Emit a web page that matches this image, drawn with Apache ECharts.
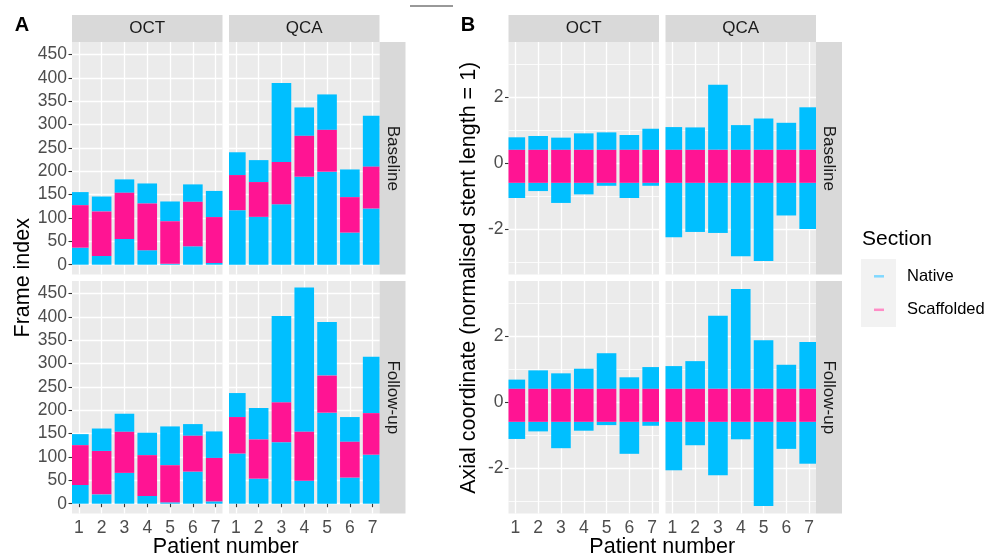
<!DOCTYPE html>
<html><head><meta charset="utf-8">
<script src="https://cdn.jsdelivr.net/npm/echarts@6/dist/echarts.min.js"></script>
<style>html,body{margin:0;padding:0;background:#fff}#c{width:1001px;height:557px}</style>
</head><body><div id="c"></div>
<script>
// ---------- data ----------
const patients = [1, 2, 3, 4, 5, 6, 7];
const methods = ['OCT', 'QCA'];
const timepoints = ['Baseline', 'Follow-up'];
const sections = ['Native', 'Scaffolded'];

// Panel A (frame index): scaffold start frame, scaffold end frame, total frames
const frameOctBaseStart = [36.5, 18.6, 55, 31, 2, 39.4, 3.6];
const frameOctBaseEnd   = [127.5, 114, 154, 131, 93, 134.7, 102];
const frameOctBaseTotal = [155.5, 146, 182.7, 174, 135.4, 172, 158];
const frameQcaBaseStart = [116.8, 102.5, 129.7, 188.5, 199.2, 68.8, 120.4];
const frameQcaBaseEnd   = [192, 177, 220, 276, 288.8, 144.7, 210];
const frameQcaBaseTotal = [240.8, 224, 389, 336.8, 364.7, 204, 318.9];
const frameOctFupStart  = [40, 20, 66, 16.5, 2.9, 68.8, 5];
const frameOctFupEnd    = [125.4, 113, 154, 104, 82.4, 145.5, 98];
const frameOctFupTotal  = [149, 161, 192.7, 152, 165.5, 170.5, 154.8];
const frameQcaFupStart  = [107.5, 53.7, 131.8, 49.4, 195, 56, 105];
const frameQcaFupEnd    = [185.6, 137.6, 217, 154, 274.4, 132.6, 194];
const frameQcaFupTotal  = [237, 205, 402, 463, 389, 185.6, 315];

// Panel B (axial coordinate): native minimum, native maximum, scaffold start/end
const axialOctBaseMin = [-1.05, -0.84, -1.20, -0.94, -0.68, -1.05, -0.68];
const axialOctBaseMax = [0.79, 0.83, 0.78, 0.91, 0.94, 0.86, 1.05];
const axialQcaBaseMin = [-2.24, -2.08, -2.11, -2.82, -2.96, -1.58, -1.99];
const axialQcaBaseMax = [1.10, 1.09, 2.38, 1.16, 1.36, 1.23, 1.70];
const axialOctFupMin  = [-1.11, -0.88, -1.39, -0.86, -0.69, -1.56, -0.71];
const axialOctFupMax  = [0.69, 0.97, 0.88, 1.02, 1.49, 0.76, 1.07];
const axialQcaFupMin  = [-2.06, -1.30, -2.21, -1.12, -3.14, -1.41, -1.86];
const axialQcaFupMax  = [1.10, 1.25, 2.63, 3.44, 1.88, 1.14, 1.83];
const axialScafStart  = [-0.59, -0.59, -0.59, -0.59, -0.59, -0.59, -0.59];
const axialScafEnd    = [0.41, 0.41, 0.41, 0.41, 0.41, 0.41, 0.41];

// tick labels
const frameTicks = [0, 50, 100, 150, 200, 250, 300, 350, 400, 450];
const axialTicks = [-2, 0, 2];
const axialMinorTicks = [-3, -1, 1, 3];

// ---------- style / layout ----------
const FONT = '"Liberation Sans", Arial, Helvetica, sans-serif';
const COLORS = { Native: '#00BFFF', Scaffolded: '#FF1493' };
const BAR_W = 0.86;
const PW = 150.5, PH = 232.5;
const ROW_TOP = [42, 281];
const COL_A = [72, 229];
const COL_B = [508.5, 665.5];
const STRIP_H = 27, STRIP_W = 26;
const X_RANGE = [0.7, 7.3];
const A_RANGE = [-21, 477];
const B_RANGE = [-3.37, 3.68];

function framePanel(start, end, total) {
  const nat = [], sca = [];
  patients.forEach((p, i) => {
    nat.push([p, 0, start[i]]);
    nat.push([p, end[i], total[i]]);
    sca.push([p, start[i], end[i]]);
  });
  return { nat, sca };
}
function axialPanel(mn, mx) {
  const nat = [], sca = [];
  patients.forEach((p, i) => {
    nat.push([p, mn[i], axialScafStart[i]]);
    nat.push([p, axialScafEnd[i], mx[i]]);
    sca.push([p, axialScafStart[i], axialScafEnd[i]]);
  });
  return { nat, sca };
}

const panels = [
  { kind: 'A', col: 0, row: 0, d: framePanel(frameOctBaseStart, frameOctBaseEnd, frameOctBaseTotal) },
  { kind: 'A', col: 1, row: 0, d: framePanel(frameQcaBaseStart, frameQcaBaseEnd, frameQcaBaseTotal) },
  { kind: 'A', col: 0, row: 1, d: framePanel(frameOctFupStart, frameOctFupEnd, frameOctFupTotal) },
  { kind: 'A', col: 1, row: 1, d: framePanel(frameQcaFupStart, frameQcaFupEnd, frameQcaFupTotal) },
  { kind: 'B', col: 0, row: 0, d: axialPanel(axialOctBaseMin, axialOctBaseMax) },
  { kind: 'B', col: 1, row: 0, d: axialPanel(axialQcaBaseMin, axialQcaBaseMax) },
  { kind: 'B', col: 0, row: 1, d: axialPanel(axialOctFupMin, axialOctFupMax) },
  { kind: 'B', col: 1, row: 1, d: axialPanel(axialQcaFupMin, axialQcaFupMax) }
];

function renderSeg(params, api) {
  const x = api.value(0), y0 = api.value(1), y1 = api.value(2);
  const a = api.coord([x - BAR_W / 2, y1]);
  const b = api.coord([x + BAR_W / 2, y0]);
  const cs = params.coordSys;
  const shape = echarts.graphic.clipRectByRect(
    { x: a[0], y: a[1], width: b[0] - a[0], height: b[1] - a[1] },
    { x: cs.x, y: cs.y, width: cs.width, height: cs.height });
  if (!shape) return;
  return { type: 'rect', shape: shape, style: { fill: api.visual('color') } };
}

const grids = [], xAxes = [], yAxes = [], series = [];
const tickLine = { color: '#333333', width: 1.1 };
const labelStyle = { color: '#4D4D4D', fontSize: 17.5, fontFamily: FONT };

panels.forEach((p, g) => {
  const cols = p.kind === 'A' ? COL_A : COL_B;
  grids.push({ left: cols[p.col], top: ROW_TOP[p.row], width: PW, height: PH,
    show: true, backgroundColor: '#EBEBEB', borderWidth: 0 });
  const showX = p.row === 1, showY = p.col === 0;
  xAxes.push({
    gridIndex: g, type: 'value', min: X_RANGE[0], max: X_RANGE[1],
    axisLine: { show: false },
    axisTick: { show: showX, length: 3.5, lineStyle: tickLine, customValues: patients },
    axisLabel: Object.assign({ show: showX, margin: 6, customValues: patients }, labelStyle),
    splitLine: { show: true, lineStyle: { color: '#FFFFFF', width: 1.3 } }
  });
  const range = p.kind === 'A' ? A_RANGE : B_RANGE;
  const ticks = p.kind === 'A' ? frameTicks : axialTicks;
  const yIdx = yAxes.length;
  yAxes.push({
    gridIndex: g, type: 'value', min: range[0], max: range[1],
    axisLine: { show: false },
    axisTick: { show: showY, length: 3.5, lineStyle: tickLine, customValues: ticks },
    axisLabel: Object.assign({ show: showY, margin: 5, customValues: ticks }, labelStyle),
    splitLine: { show: true, lineStyle: { color: '#FFFFFF', width: 1.3 } }
  });
  if (p.kind === 'B') {
    yAxes.push({
      gridIndex: g, type: 'value', min: range[0], max: range[1], position: 'left',
      axisLine: { show: false },
      axisTick: { show: false, customValues: axialMinorTicks },
      axisLabel: { show: false, customValues: axialMinorTicks },
      splitLine: { show: true, lineStyle: { color: '#FFFFFF', width: 0.8 } }
    });
  }
  [['Native', p.d.nat], ['Scaffolded', p.d.sca]].forEach(([name, data]) => {
    series.push({
      type: 'custom', name: name, xAxisIndex: g, yAxisIndex: yIdx,
      data: data, renderItem: renderSeg, encode: { x: 0, y: [1, 2] },
      itemStyle: { color: COLORS[name] }, silent: true, z: 3
    });
  });
});

// ---------- decorations ----------
const graphic = [];
function txt(t, x, y, size, opts) {
  opts = opts || {};
  graphic.push({ type: 'text', x: x, y: y, rotation: opts.rot || 0, silent: true,
    style: { text: t, fill: opts.fill || '#000', fontSize: size, fontFamily: FONT,
      fontWeight: opts.bold ? 'bold' : 'normal',
      align: opts.align || 'center', verticalAlign: 'middle' } });
}
function rect(x, y, w, h, fill) {
  graphic.push({ type: 'rect', silent: true, shape: { x: x, y: y, width: w, height: h }, style: { fill: fill } });
}
[COL_A, COL_B].forEach(cols => {
  cols.forEach((cx, ci) => {
    rect(cx, ROW_TOP[0] - STRIP_H, PW, STRIP_H, '#D9D9D9');
    txt(methods[ci], cx + PW / 2, ROW_TOP[0] - STRIP_H / 2, 17, { fill: '#1A1A1A' });
  });
  ROW_TOP.forEach((ry, ri) => {
    const sx = cols[1] + PW;
    rect(sx, ry, STRIP_W, PH, '#D9D9D9');
    txt(timepoints[ri], sx + STRIP_W / 2, ry + PH / 2, 17, { fill: '#1A1A1A', rot: -Math.PI / 2 });
  });
});
// panel letters
txt('A', 22, 25.5, 20, { bold: true });
txt('B', 468, 25.5, 20, { bold: true });
// axis titles
const midY = (ROW_TOP[0] + ROW_TOP[1] + PH) / 2;
txt('Frame index', 23.5, midY, 21.5, { rot: Math.PI / 2 });
txt('Axial coordinate (normalised stent length = 1)', 469, midY, 21.5, { rot: Math.PI / 2 });
txt('Patient number', (COL_A[0] + COL_A[1] + PW) / 2, 547, 21.5);
txt('Patient number', (COL_B[0] + COL_B[1] + PW) / 2, 547, 21.5);
// legend
txt('Section', 862, 239, 21, { align: 'left' });
rect(861, 259, 35, 68, '#F2F2F2');
const keyY = [276.3, 309.8];
const keyCol = ['#80D8FF', '#FF8CC6'];
sections.forEach((s, i) => {
  graphic.push({ type: 'line', silent: true, shape: { x1: 874, y1: keyY[i], x2: 884, y2: keyY[i] },
    style: { stroke: keyCol[i], lineWidth: 2.5 } });
  txt(s, 907, keyY[i], 16.5, { align: 'left' });
});
// stray line artefact at top
graphic.push({ type: 'line', silent: true, shape: { x1: 410, y1: 6, x2: 453, y2: 6 },
  style: { stroke: '#333333', lineWidth: 1 } });

const chart = echarts.init(document.getElementById('c'), null, { renderer: 'canvas' });
chart.setOption({
  animation: false,
  backgroundColor: '#FFFFFF',
  grid: grids, xAxis: xAxes, yAxis: yAxes, series: series,
  graphic: graphic
});
</script></body></html>
